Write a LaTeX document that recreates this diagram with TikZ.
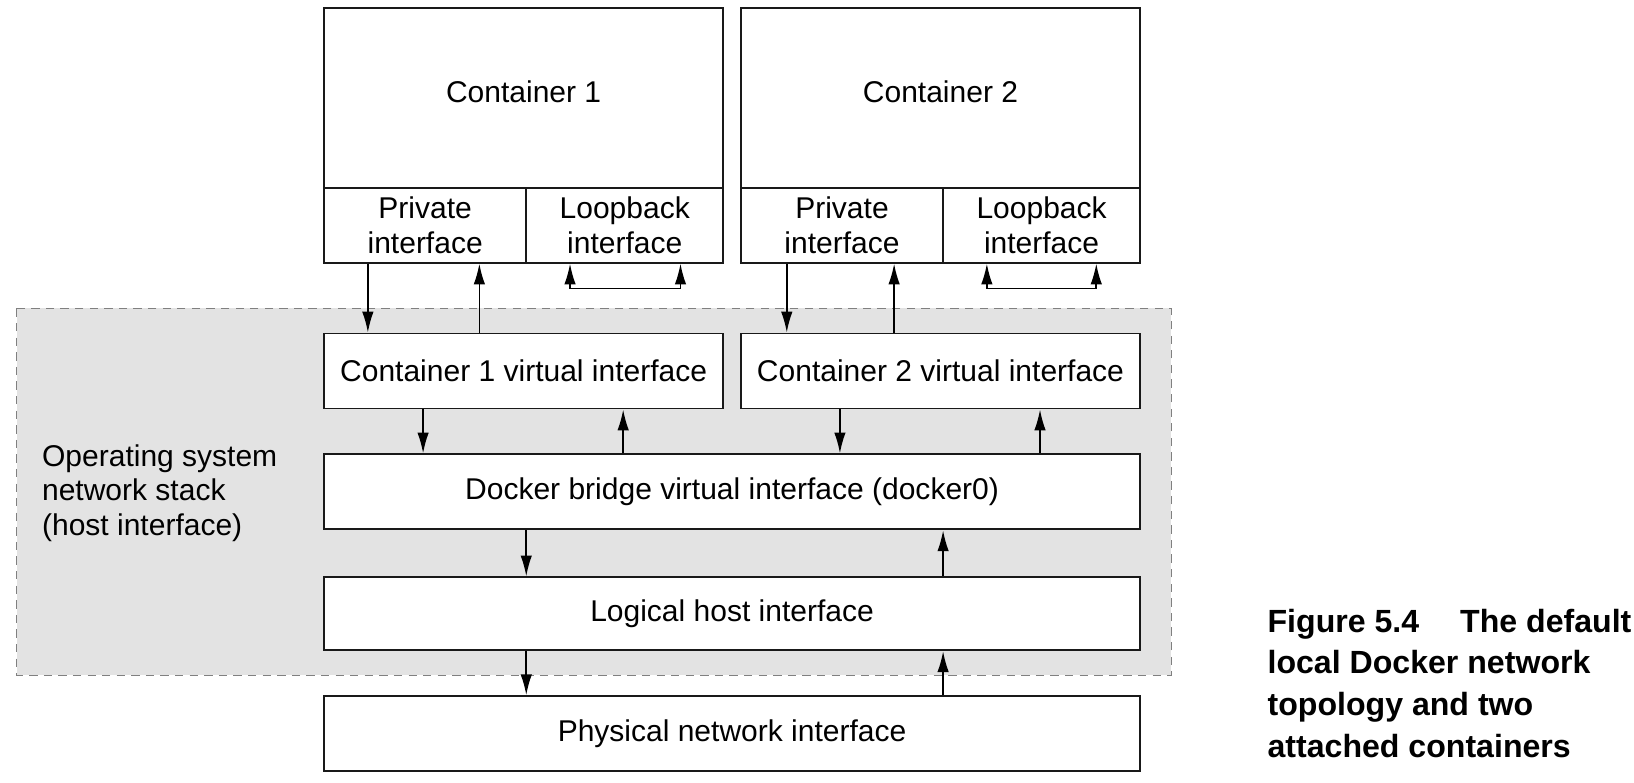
\documentclass[tikz,border=0pt]{standalone}
\usepackage{fontspec}
\setmainfont{Liberation Sans}
\usetikzlibrary{arrows.meta}

\tikzset{
    box/.style={draw=black!90, line width=0.9pt, fill=white, minimum width=#1, minimum height=36pt, inner sep=0pt, align=center},
    arr/.style={line width=0.8pt, -{Latex[length=10pt,width=5.5pt]}},
    loop/.style={line width=0.8pt, {Latex[length=10pt,width=5.5pt]}-{Latex[length=10pt,width=5.5pt]}}
}

\begin{document}
\begin{tikzpicture}[x=0.5pt, y=-0.5pt, font=\fontsize{14.4}{16.5}\selectfont]
            \useasboundingbox (0,0) rectangle (1568,751);

            % 主机网络栈
            \draw[dash pattern=on 4pt off 3pt, draw=black!50, fill=black!11, line width=0.6pt] (16,296) rectangle (1124,648);
            \node[anchor=west, inner sep=0pt, align=left] (os) at (40,473) {Operating system\\network stack\\(host interface)};

            % 容器
            \node[box=191.5pt, minimum height=86pt] (c1) at (502.5,94) {};
            \node (c1t) at (502.5,88) {Container 1};
            \node[box=97pt] (p1) at (408,216) {Private\\interface};
            \node[box=94.5pt] (l1) at (599.5,216) {Loopback\\interface};

            \node[box=191.5pt, minimum height=86pt] (c2) at (902.5,94) {};
            \node (c2t) at (902.5,88) {Container 2};
            \node[box=97pt] (p2) at (808,216) {Private\\interface};
            \node[box=94.5pt] (l2) at (999.5,216) {Loopback\\interface};

            % 虚拟接口
            \node[box=191.5pt] (v1) at (502.5,356) {Container 1 virtual interface};
            \node[box=191.5pt] (v2) at (902.5,356) {Container 2 virtual interface};
            \node[box=391.5pt] (br) at (702.5,472) {Docker bridge virtual interface (docker0)};
            \node[box=391.5pt, minimum height=35pt] (lh) at (702.5,589) {Logical host interface};
            \node[box=391.5pt] (ph) at (702.5,704) {Physical network interface};

            % 箭头的位置
            \coordinate (a1) at (353,0);
            \coordinate (b1) at (460,0);
            \coordinate (a2) at (755,0);
            \coordinate (b2) at (858,0);
            \coordinate (la1) at (547,0);
            \coordinate (lb1) at (653,0);
            \coordinate (la2) at (947,0);
            \coordinate (lb2) at (1052,0);
            \coordinate (d1) at (406,0);
            \coordinate (u1) at (598,0);
            \coordinate (d2) at (806,0);
            \coordinate (u2) at (998,0);
            \coordinate (d3) at (505,0);
            \coordinate (u3) at (905,0);

            \draw[arr] (a1 |- p1.south) -- (a1 |- v1.north);
            \draw[arr] (b1 |- v1.north) -- (b1 |- p1.south);
            \draw[arr] (a2 |- p2.south) -- (a2 |- v2.north);
            \draw[arr] (b2 |- v2.north) -- (b2 |- p2.south);

            \draw[loop] (la1 |- l1.south) -- ++(0,24) -| (lb1 |- l1.south);
            \draw[loop] (la2 |- l2.south) -- ++(0,24) -| (lb2 |- l2.south);

            \draw[arr] (d1 |- v1.south) -- (d1 |- br.north);
            \draw[arr] (u1 |- br.north) -- (u1 |- v1.south);
            \draw[arr] (d2 |- v2.south) -- (d2 |- br.north);
            \draw[arr] (u2 |- br.north) -- (u2 |- v2.south);

            \draw[arr] (d3 |- br.south) -- (d3 |- lh.north);
            \draw[arr] (u3 |- lh.north) -- (u3 |- br.south);
            \draw[arr] (d3 |- lh.south) -- (d3 |- ph.north);
            \draw[arr] (u3 |- ph.north) -- (u3 |- lh.south);

            % 图注
            \node[anchor=north west, inner sep=0pt, align=left, font=\bfseries\fontsize{15.4}{20}\selectfont] (cap) at (1216,584) {Figure 5.4 \quad The default\\local Docker network\\topology and two\\attached containers};
\end{tikzpicture}
\end{document}
